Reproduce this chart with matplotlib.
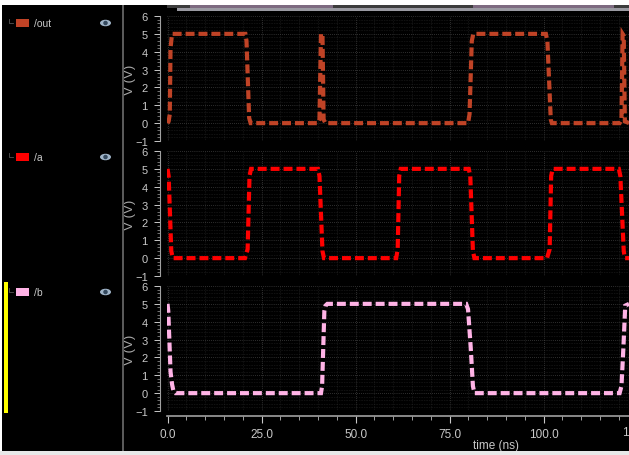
import matplotlib
matplotlib.use('Agg')
import matplotlib.pyplot as plt
from matplotlib.patches import Rectangle, Ellipse
from matplotlib.ticker import MultipleLocator

plt.rcParams['font.family'] = ['Liberation Sans', 'DejaVu Sans']

W, H = 629, 456

# Waveforms (time in ns, volts)
out_t = [0, 0.3, 0.6, 0.8, 1.2, 20.7, 21.0, 21.7, 22.1, 40.0, 40.4, 40.8, 41.2, 41.5, 42.0,
         79.9, 80.3, 80.9, 81.3, 100.6, 101.0, 101.9, 102.2, 120.2, 120.7, 121.0, 121.3, 121.6, 122.7]
out_v = [0, 0.1, 0.5, 4.2, 5, 5, 4.6, 0.3, 0, 0, 0.2, 5, 5, 0.2, 0,
         0, 0.5, 4.6, 5, 5, 4.6, 0.2, 0, 0, 0.2, 5, 4.9, 0.1, 0]
a_t = [0, 0.3, 1.0, 1.4, 20.6, 21.3, 21.8, 22.2, 40.0, 40.4, 41.2, 41.6, 60.8, 61.2, 61.6, 62.0,
       80.1, 80.5, 81.2, 81.6, 100.9, 101.6, 102.0, 102.4, 120.0, 120.4, 121.3, 121.6, 122.7]
a_v = [5, 4.6, 0.4, 0, 0, 0.5, 4.6, 5, 5, 4.6, 0.4, 0, 0, 0.5, 4.6, 5,
       5, 4.6, 0.4, 0, 0, 0.5, 4.6, 5, 5, 4.6, 0.4, 0, 0]
b_t = [0, 0.2, 0.8, 1.2, 1.6, 2.1, 40.8, 41.1, 41.7, 42.0, 42.5, 79.4, 79.9, 80.6, 81.2, 81.6, 120.2, 120.7, 121.2, 121.7, 122.7]
b_v = [5, 4.6, 1.2, 0.5, 0.1, 0, 0, 0.4, 4.6, 4.9, 5, 5, 4.7, 2.6, 0.4, 0, 0, 0.4, 2.5, 4.9, 5]

names = ['/out', '/a', '/b']
colors = ['#c04326', '#ff0000', '#ffb3e6']
series_t = [out_t, a_t, b_t]
series_v = [out_v, a_v, b_v]
y_ticks = [-1, 0, 1, 2, 3, 4, 5, 6]
x_ticks = [0, 25, 50, 75, 100]
x_labels = ['0.0', '25.0', '50.0', '75.0', '100.0']

# pixel rows of y=6 and y=-1 for each panel
panel_rows = [(17, 142), (152, 277), (287, 412)]
ax_left, ax_right = 166.5, 629
legend_rows = [24, 158, 293]

txt = '#c8c8c8'
fig = plt.figure(figsize=(W / 100, H / 100), dpi=100, facecolor='black')

for i, (top, bottom) in enumerate(panel_rows):
    ax = fig.add_axes([ax_left / W, 1 - bottom / H, (ax_right - ax_left) / W, (bottom - top) / H], facecolor='black')
    ax.plot(series_t[i], series_v[i], color=colors[i], lw=3.0, dashes=(2.15, 0.95), dash_joinstyle='miter')
    ax.set_xlim(-0.27, 122.7)
    ax.set_ylim(-1, 6)
    ax.xaxis.set_major_locator(MultipleLocator(25))
    ax.xaxis.set_minor_locator(MultipleLocator(5))
    ax.yaxis.set_major_locator(MultipleLocator(1))
    ax.yaxis.set_minor_locator(MultipleLocator(0.2))
    ax.grid(True, which='major', color='#5a5a5a', lw=0.5, ls=(0, (1, 2)))
    ax.grid(True, which='minor', color='#363636', lw=0.4, ls=(0, (1, 2)))
    ax.set_axisbelow(True)
    for s in ['top', 'right', 'bottom']:
        ax.spines[s].set_visible(False)
    ax.spines['left'].set_position(('outward', 4.5))
    ax.spines['left'].set_color('#a0a0a0')
    ax.set_yticks(y_ticks)
    ax.tick_params(axis='y', which='major', colors=txt, labelsize=8, length=4, width=0.7, pad=5)
    ax.tick_params(axis='y', which='minor', color='#a0a0a0', length=2.5, width=0.5)
    ax.set_ylabel('V (V)', color='#a8a8a8', fontsize=9.5, va='center')
    ax.yaxis.set_label_coords((130 - ax_left) / (ax_right - ax_left), 0.5)
    if i < 2:
        ax.tick_params(axis='x', which='both', length=0, labelbottom=False)
    else:
        ax.spines['bottom'].set_visible(True)
        ax.spines['bottom'].set_position(('outward', 3.5))
        ax.spines['bottom'].set_color('#a0a0a0')
        ax.spines['bottom'].set_linewidth(1.2)
        ax.set_xticks(x_ticks)
        ax.set_xticklabels(x_labels)
        ax.xaxis.set_minor_locator(MultipleLocator(5))
        ax.tick_params(axis='x', which='major', colors=txt, labelsize=8.5, length=5, width=0.8, pad=4)
        ax.tick_params(axis='x', which='minor', color='#a0a0a0', length=3, width=0.7)
        ax.set_xlabel('time (ns)', color=txt, fontsize=8.5)
        ax.xaxis.set_label_coords((496 - ax_left) / (ax_right - ax_left), (412 - 446) / (bottom - top))
        ax.xaxis.label.set_va('center')

# overlay in pixel coordinates: legend column, separator, window edges
ov = fig.add_axes([0, 0, 1, 1], facecolor='none')
ov.set_xlim(0, W)
ov.set_ylim(H, 0)
ov.axis('off')
ov.add_patch(Rectangle((0, 0), W, 6, color='white', lw=0))
ov.add_patch(Rectangle((0, 0), 2, H, color='white', lw=0))
ov.add_patch(Rectangle((0, 452.5), W, 3.5, color='#e8e8e8', lw=0))
# scrollbar strip along the top
ov.add_patch(Rectangle((167, 6), W - 167, 3, color='#3c3c3c', lw=0))
ov.add_patch(Rectangle((177, 9), W - 177, 3, color='#9a9aa2', lw=0))
ov.add_patch(Rectangle((190, 6), 143, 2.5, color='#7d6a80', lw=0))
ov.add_patch(Rectangle((473, 6), 141, 2.5, color='#7d6a80', lw=0))
ov.add_patch(Rectangle((122, 6), 1.6, 446.5, color='#5a5a5a', lw=0))
ov.add_patch(Rectangle((4, 283), 3.5, 131, color='#ffff00', lw=0))
for name, col, row in zip(names, colors, legend_rows):
    ov.plot([9, 9, 13], [row - 4, row, row], color='#555555', lw=0.6)
    ov.add_patch(Rectangle((16, row - 4), 13, 8, color=col, lw=0))
    ov.text(34, row, name, color=txt, fontsize=7.5, va='center', ha='left')
    ov.add_patch(Ellipse((105.5, row), 11, 6.5, color='#9fb4c8', lw=0))
    ov.add_patch(Ellipse((105.5, row), 4.5, 4.5, color='#34495e', lw=0))
# last tick label is cut by the window edge in the source, only its first digit shows
ov.text(625, 433, '1', color=txt, fontsize=8.5, ha='center', va='center')

fig.savefig('out.png', dpi=100, facecolor='black')
